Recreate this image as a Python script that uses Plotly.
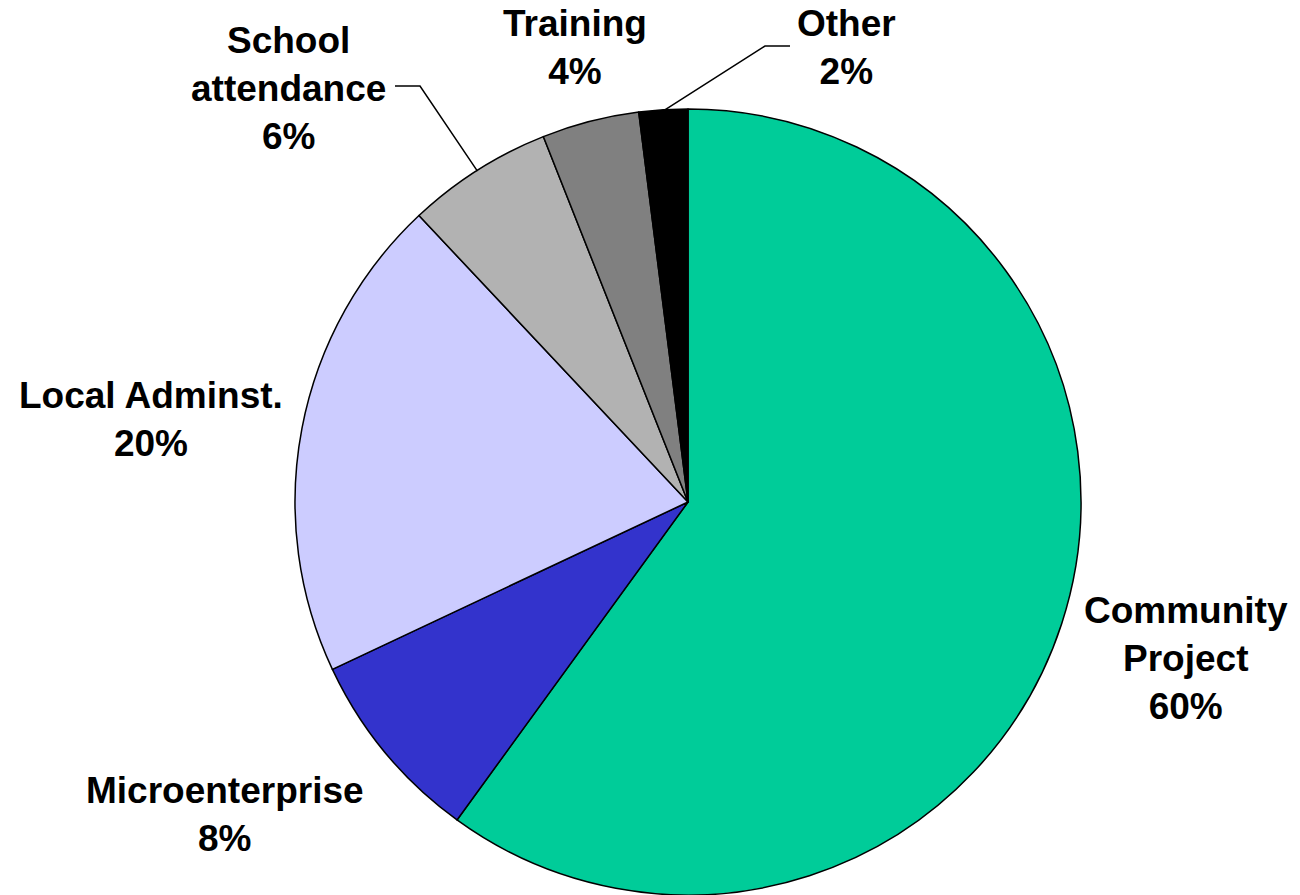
import math
import plotly.graph_objects as go

# Share of funds by activity
categories = ["Community Project", "Microenterprise", "Local Adminst.",
              "School attendance", "Training", "Other"]
label_text = ["Community<br>Project", "Microenterprise", "Local Adminst.",
              "School<br>attendance", "Training", "Other"]
values = [60, 8, 20, 6, 4, 2]
colors = ["#00CC99", "#3333CC", "#CCCCFF", "#B2B2B2", "#808080", "#000000"]

W, H = 1300, 895
CX, CY, R = 688, 503, 393  # pie centre / radius in pixels


def px(x, y):
    """Pixel position -> paper coordinates."""
    return x / W, 1 - y / H


fig = go.Figure(go.Pie(
    labels=categories,
    values=values,
    sort=False,
    direction="clockwise",
    rotation=0,
    marker=dict(colors=colors, line=dict(color="black", width=1.5)),
    textinfo="none",
    hoverinfo="label+percent",
    domain=dict(x=[(CX - R) / W, (CX + R) / W], y=[0, 2 * R / H]),
    showlegend=False,
))

# Label block centres (pixels)
label_pos = {
    "Community Project": (1186, 658),
    "Microenterprise": (225, 814),
    "Local Adminst.": (151, 419),
    "School attendance": (288, 88),
    "Training": (575, 48),
    "Other": (846, 48),
}

total = sum(values)
annotations = []
for name, txt, v in zip(categories, label_text, values):
    x, y = label_pos[name]
    ax, ay = px(x, y)
    annotations.append(dict(
        x=ax, y=ay, xref="paper", yref="paper",
        text=f"<b>{txt}<br>{round(100 * v / total)}%</b>",
        showarrow=False, align="center",
        xanchor="center", yanchor="middle",
        font=dict(family="Liberation Sans, Arial, sans-serif", size=37, color="black"),
    ))

# Leader lines: elbow points, ending at the slice mid-angle on the rim
elbows = {
    "School attendance": [(395, 86), (420, 86)],
    "Other": [(790, 46), (765, 46)],
}
shapes = []
cum = 0
for name, v in zip(categories, values):
    mid = (cum + v / 2) / total * 2 * math.pi
    cum += v
    if name not in elbows:
        continue
    ex, ey = CX + R * math.sin(mid), CY - R * math.cos(mid)
    pts = elbows[name] + [(ex, ey)]
    path = "M " + " L ".join(f"{px(a, b)[0]},{px(a, b)[1]}" for a, b in pts)
    shapes.append(dict(type="path", path=path, xref="paper", yref="paper",
                       line=dict(color="black", width=1.5)))

fig.update_layout(
    width=W, height=H,
    margin=dict(l=0, r=0, t=0, b=0),
    paper_bgcolor="white", plot_bgcolor="white",
    annotations=annotations,
    shapes=shapes,
)

fig.write_html("out.html")
